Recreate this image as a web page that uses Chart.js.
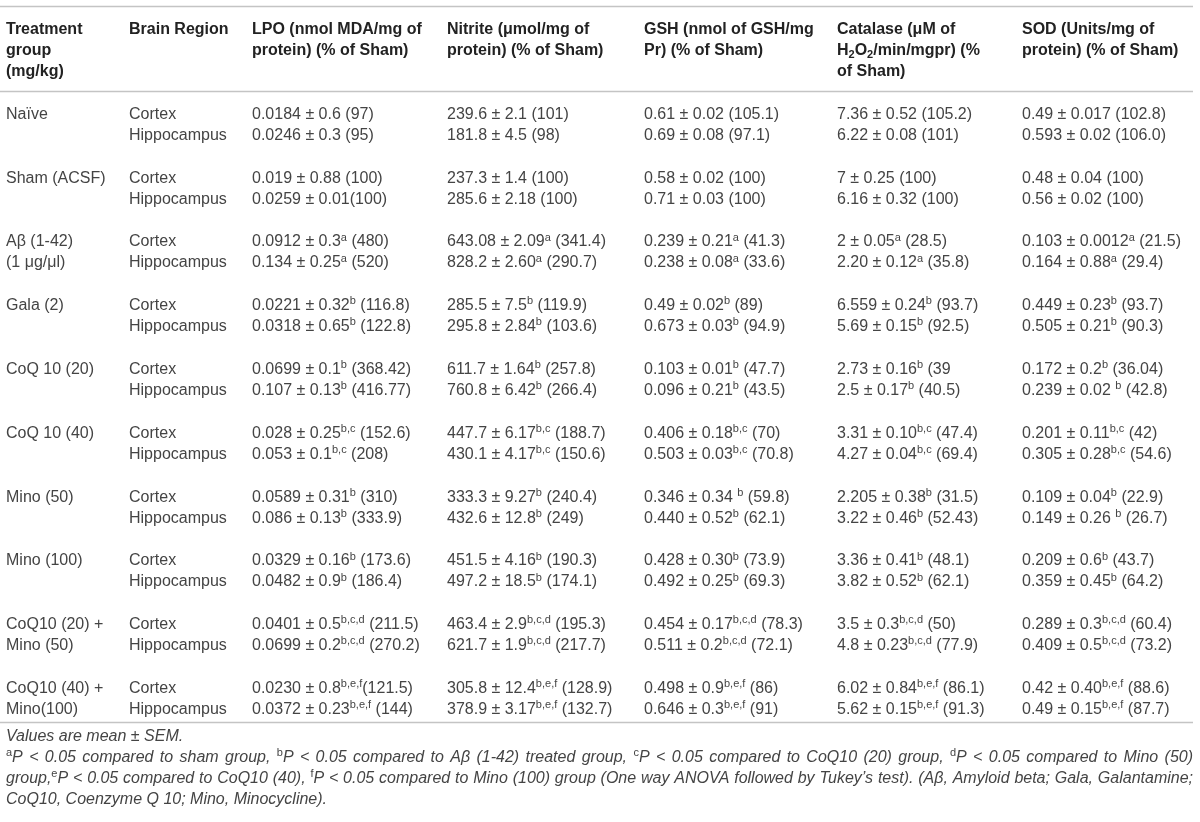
<!DOCTYPE html>
<html>
<head>
<meta charset="utf-8">
<script src="https://cdn.jsdelivr.net/npm/chart.js@4.4.1/dist/chart.umd.min.js"></script>
<style>
  html, body { margin: 0; padding: 0; background: #fff; }
  #chart { display: block; }
</style>
</head>
<body>
<canvas id="chart" width="1200" height="822"></canvas>
<script>
'use strict';

// ^{..} is a superscript, _{..} a subscript
const headers = [
  ['Treatment', 'group', '(mg/kg)'],
  ['Brain Region'],
  ['LPO (nmol MDA/mg of', 'protein) (% of Sham)'],
  ['Nitrite (μmol/mg of', 'protein) (% of Sham)'],
  ['GSH (nmol of GSH/mg', 'Pr) (% of Sham)'],
  ['Catalase (μM of', 'H_{2}O_{2}/min/mgpr) (%', 'of Sham)'],
  ['SOD (Units/mg of', 'protein) (% of Sham)']
];

const groups = [
  ['Naïve'],
  ['Sham (ACSF)'],
  ['Aβ (1-42)', '(1 μg/μl)'],
  ['Gala (2)'],
  ['CoQ 10 (20)'],
  ['CoQ 10 (40)'],
  ['Mino (50)'],
  ['Mino (100)'],
  ['CoQ10 (20) +', 'Mino (50)'],
  ['CoQ10 (40) +', 'Mino(100)']
];

const regions = ['Cortex', 'Hippocampus'];

// cortex, hippocampus for each group in turn
const lpo = [
  '0.0184 ± 0.6 (97)', '0.0246 ± 0.3 (95)',
  '0.019 ± 0.88 (100)', '0.0259 ± 0.01(100)',
  '0.0912 ± 0.3^{a} (480)', '0.134 ± 0.25^{a} (520)',
  '0.0221 ± 0.32^{b} (116.8)', '0.0318 ± 0.65^{b} (122.8)',
  '0.0699 ± 0.1^{b} (368.42)', '0.107 ± 0.13^{b} (416.77)',
  '0.028 ± 0.25^{b,c} (152.6)', '0.053 ± 0.1^{b,c} (208)',
  '0.0589 ± 0.31^{b} (310)', '0.086 ± 0.13^{b} (333.9)',
  '0.0329 ± 0.16^{b} (173.6)', '0.0482 ± 0.9^{b} (186.4)',
  '0.0401 ± 0.5^{b,c,d} (211.5)', '0.0699 ± 0.2^{b,c,d} (270.2)',
  '0.0230 ± 0.8^{b,e,f}(121.5)', '0.0372 ± 0.23^{b,e,f} (144)'
];

const nitrite = [
  '239.6 ± 2.1 (101)', '181.8 ± 4.5 (98)',
  '237.3 ± 1.4 (100)', '285.6 ± 2.18 (100)',
  '643.08 ± 2.09^{a} (341.4)', '828.2 ± 2.60^{a} (290.7)',
  '285.5 ± 7.5^{b} (119.9)', '295.8 ± 2.84^{b} (103.6)',
  '611.7 ± 1.64^{b} (257.8)', '760.8 ± 6.42^{b} (266.4)',
  '447.7 ± 6.17^{b,c} (188.7)', '430.1 ± 4.17^{b,c} (150.6)',
  '333.3 ± 9.27^{b} (240.4)', '432.6 ± 12.8^{b} (249)',
  '451.5 ± 4.16^{b} (190.3)', '497.2 ± 18.5^{b} (174.1)',
  '463.4 ± 2.9^{b,c,d} (195.3)', '621.7 ± 1.9^{b,c,d} (217.7)',
  '305.8 ± 12.4^{b,e,f} (128.9)', '378.9 ± 3.17^{b,e,f} (132.7)'
];

const gsh = [
  '0.61 ± 0.02 (105.1)', '0.69 ± 0.08 (97.1)',
  '0.58 ± 0.02 (100)', '0.71 ± 0.03 (100)',
  '0.239 ± 0.21^{a} (41.3)', '0.238 ± 0.08^{a} (33.6)',
  '0.49 ± 0.02^{b} (89)', '0.673 ± 0.03^{b} (94.9)',
  '0.103 ± 0.01^{b} (47.7)', '0.096 ± 0.21^{b} (43.5)',
  '0.406 ± 0.18^{b,c} (70)', '0.503 ± 0.03^{b,c} (70.8)',
  '0.346 ± 0.34 ^{b} (59.8)', '0.440 ± 0.52^{b} (62.1)',
  '0.428 ± 0.30^{b} (73.9)', '0.492 ± 0.25^{b} (69.3)',
  '0.454 ± 0.17^{b,c,d} (78.3)', '0.511 ± 0.2^{b,c,d} (72.1)',
  '0.498 ± 0.9^{b,e,f} (86)', '0.646 ± 0.3^{b,e,f} (91)'
];

const catalase = [
  '7.36 ± 0.52 (105.2)', '6.22 ± 0.08 (101)',
  '7 ± 0.25 (100)', '6.16 ± 0.32 (100)',
  '2 ± 0.05^{a} (28.5)', '2.20 ± 0.12^{a} (35.8)',
  '6.559 ± 0.24^{b} (93.7)', '5.69 ± 0.15^{b} (92.5)',
  '2.73 ± 0.16^{b} (39', '2.5 ± 0.17^{b} (40.5)',
  '3.31 ± 0.10^{b,c} (47.4)', '4.27 ± 0.04^{b,c} (69.4)',
  '2.205 ± 0.38^{b} (31.5)', '3.22 ± 0.46^{b} (52.43)',
  '3.36 ± 0.41^{b} (48.1)', '3.82 ± 0.52^{b} (62.1)',
  '3.5 ± 0.3^{b,c,d} (50)', '4.8 ± 0.23^{b,c,d} (77.9)',
  '6.02 ± 0.84^{b,e,f} (86.1)', '5.62 ± 0.15^{b,e,f} (91.3)'
];

const sod = [
  '0.49 ± 0.017 (102.8)', '0.593 ± 0.02 (106.0)',
  '0.48 ± 0.04 (100)', '0.56 ± 0.02 (100)',
  '0.103 ± 0.0012^{a} (21.5)', '0.164 ± 0.88^{a} (29.4)',
  '0.449 ± 0.23^{b} (93.7)', '0.505 ± 0.21^{b} (90.3)',
  '0.172 ± 0.2^{b} (36.04)', '0.239 ± 0.02 ^{b} (42.8)',
  '0.201 ± 0.11^{b,c} (42)', '0.305 ± 0.28^{b,c} (54.6)',
  '0.109 ± 0.04^{b} (22.9)', '0.149 ± 0.26 ^{b} (26.7)',
  '0.209 ± 0.6^{b} (43.7)', '0.359 ± 0.45^{b} (64.2)',
  '0.289 ± 0.3^{b,c,d} (60.4)', '0.409 ± 0.5^{b,c,d} (73.2)',
  '0.42 ± 0.40^{b,e,f} (88.6)', '0.49 ± 0.15^{b,e,f} (87.7)'
];

const notes = [
  'Values are mean ± SEM.',
  '^{a}P < 0.05 compared to sham group, ^{b}P < 0.05 compared to Aβ (1-42) treated group, ^{c}P < 0.05 compared to CoQ10 (20) group, ^{d}P < 0.05 compared to Mino (50)',
  'group,^{e}P < 0.05 compared to CoQ10 (40), ^{f}P < 0.05 compared to Mino (100) group (One way ANOVA followed by Tukey\u2019s test). (Aβ, Amyloid beta; Gala, Galantamine;',
  'CoQ10, Coenzyme Q 10; Mino, Minocycline).'
];

// layout (page pixels)
const FONT = '"Liberation Sans", Arial, Helvetica, sans-serif';
const colLeft = [6, 129, 252, 447, 644, 837, 1022];
const tableRight = 1193;
const headLineY = [28, 49, 70];
const firstRowY = 113;
const groupPitch = 63.8;
const linePitch = 21;
const ruleY = [6, 91, 722];
const noteY = [735, 756, 777, 798];

const bodyStyle = { size: 16, weight: 'normal', italic: false, color: '#444' };
const headStyle = { size: 16, weight: 'bold', italic: false, color: '#222' };
const noteStyle = { size: 16, weight: 'normal', italic: true, color: '#444' };

function rowY(g, l) {
  return firstRowY + g * groupPitch + l * linePitch;
}

function parseRich(str) {
  const out = [];
  const re = /([\^_])\{([^}]*)\}/g;
  let last = 0, m;
  while ((m = re.exec(str))) {
    if (m.index > last) out.push({ t: str.slice(last, m.index), k: 'n' });
    out.push({ t: m[2], k: m[1] === '^' ? 'sup' : 'sub' });
    last = re.lastIndex;
  }
  if (last < str.length) out.push({ t: str.slice(last), k: 'n' });
  return out;
}

function drawRich(ctx, str, x, y, st, justify) {
  const parts = parseRich(str);
  const small = Math.round(st.size * 0.68);
  const fontFor = (k) => {
    const sz = k === 'n' ? st.size : small;
    const it = (k === 'n' && st.italic) ? 'italic ' : '';
    return it + st.weight + ' ' + sz + 'px ' + FONT;
  };
  let natural = 0, spaces = 0;
  parts.forEach(p => {
    ctx.font = fontFor(p.k);
    natural += ctx.measureText(p.t).width;
    if (p.k === 'n') spaces += (p.t.match(/ /g) || []).length;
  });
  const extra = justify && spaces ? (justify - natural) / spaces : 0;
  const base = y + st.size * 0.36;
  let cx = x;
  ctx.fillStyle = st.color;
  ctx.textBaseline = 'alphabetic';
  ctx.textAlign = 'left';
  parts.forEach(p => {
    ctx.font = fontFor(p.k);
    const dy = p.k === 'sup' ? -st.size * 0.36 : p.k === 'sub' ? st.size * 0.22 : 0;
    if (extra && p.k === 'n') {
      const words = p.t.split(' ');
      words.forEach((w, i) => {
        if (w) { ctx.fillText(w, cx, base + dy); cx += ctx.measureText(w).width; }
        if (i < words.length - 1) cx += ctx.measureText(' ').width + extra;
      });
    } else {
      ctx.fillText(p.t, cx, base + dy);
      cx += ctx.measureText(p.t).width;
    }
  });
}

// one invisible scatter dataset per column, the text rides on each point
const series = [lpo, nitrite, gsh, catalase, sod];
const datasets = [];

const headPts = [];
headers.forEach((lines, c) => {
  lines.forEach((t, l) => headPts.push({ x: colLeft[c], y: headLineY[l], text: t }));
});
datasets.push({ label: 'header', data: headPts, cellStyle: headStyle });

const groupPts = [];
groups.forEach((lines, g) => {
  lines.forEach((t, l) => groupPts.push({ x: colLeft[0], y: rowY(g, l), text: t }));
});
datasets.push({ label: 'group', data: groupPts, cellStyle: bodyStyle });

const regionPts = [];
groups.forEach((lines, g) => {
  regions.forEach((t, l) => regionPts.push({ x: colLeft[1], y: rowY(g, l), text: t }));
});
datasets.push({ label: 'region', data: regionPts, cellStyle: bodyStyle });

series.forEach((vals, s) => {
  datasets.push({
    label: headers[s + 2][0],
    data: vals.map((t, i) => ({ x: colLeft[s + 2], y: rowY(Math.floor(i / 2), i % 2), text: t })),
    cellStyle: bodyStyle
  });
});

datasets.push({
  label: 'notes',
  data: notes.map((t, i) => ({ x: colLeft[0], y: noteY[i], text: t, justify: (i === 1 || i === 2) })),
  cellStyle: noteStyle
});

datasets.forEach(d => { d.pointRadius = 0; d.pointHoverRadius = 0; d.showLine = false; });

const tablePlugin = {
  id: 'tablePlugin',
  afterDatasetsDraw(chart) {
    const ctx = chart.ctx;
    const xs = chart.scales.x, ys = chart.scales.y;
    ctx.save();
    // horizontal rules
    ctx.strokeStyle = '#c4c4c4';
    ctx.lineWidth = 1.5;
    ruleY.forEach(v => {
      const py = Math.round(ys.getPixelForValue(v)) + 0.5;
      ctx.beginPath();
      ctx.moveTo(xs.getPixelForValue(0), py);
      ctx.lineTo(xs.getPixelForValue(tableRight), py);
      ctx.stroke();
    });
    // cell texts
    chart.data.datasets.forEach((ds, di) => {
      const meta = chart.getDatasetMeta(di);
      meta.data.forEach((el, i) => {
        const raw = ds.data[i];
        const width = raw.justify ? xs.getPixelForValue(tableRight) - el.x : 0;
        drawRich(ctx, raw.text, el.x, el.y, ds.cellStyle, width);
      });
    });
    ctx.restore();
  }
};

let canvasElem = document.getElementById('chart').getContext('2d');

new Chart(canvasElem, {
  type: 'scatter',
  data: { datasets: datasets },
  options: {
    responsive: false,
    animation: false,
    devicePixelRatio: 1,
    layout: { padding: 0 },
    events: [],
    scales: {
      x: { type: 'linear', min: 0, max: 1200, display: false },
      y: { type: 'linear', min: 0, max: 822, reverse: true, display: false }
    },
    plugins: { legend: { display: false }, tooltip: { enabled: false } }
  },
  plugins: [tablePlugin]
});
</script>
</body>
</html>
